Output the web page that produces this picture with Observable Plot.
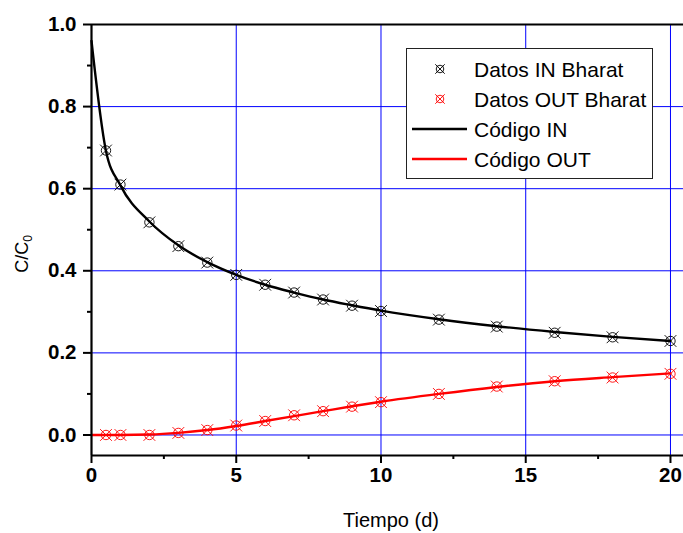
<!DOCTYPE html>
<html>
<head>
<meta charset="utf-8">
<script src="https://cdn.jsdelivr.net/npm/d3@7"></script>
<script src="https://cdn.jsdelivr.net/npm/@observablehq/plot@0.6"></script>
<style>
  html, body { margin: 0; padding: 0; background: #fff; }
  #chart { position: relative; width: 683px; height: 533px; }
</style>
</head>
<body>
<div id="chart"></div>
<script>
// Bharat data points
const bharatT   = [0.5, 1, 2, 3, 4, 5, 6, 7, 8, 9, 10, 12, 14, 16, 18, 20];
const bharatIN  = [0.693, 0.61, 0.518, 0.46, 0.42, 0.39, 0.366, 0.347, 0.33, 0.315, 0.302, 0.281, 0.264, 0.249, 0.238, 0.229];
const bharatOUT = [0.0, 0.0, 0.0, 0.005, 0.012, 0.023, 0.034, 0.048, 0.058, 0.069, 0.08, 0.1, 0.118, 0.131, 0.14, 0.149];

// Code (model) curves
const codeT   = [0, 0.5, 1, 2, 3, 4, 5, 6, 7, 8, 9, 10, 12, 14, 16, 18, 20];
const codeIN  = [0.96, 0.692, 0.608, 0.52, 0.462, 0.421, 0.39, 0.366, 0.347, 0.33, 0.316, 0.303, 0.282, 0.265, 0.251, 0.239, 0.229];
const codeOUT = [0.0, 0.0, 0.0, 0.001, 0.005, 0.012, 0.022, 0.034, 0.046, 0.058, 0.07, 0.081, 0.1, 0.117, 0.131, 0.141, 0.15];

// Axis ticks
const xMajor = [0, 5, 10, 15, 20];
const xMinor = [2.5, 7.5, 12.5, 17.5];
const yMajor = [0, 0.2, 0.4, 0.6, 0.8, 1.0];
const yMinor = [0.1, 0.3, 0.5, 0.7, 0.9];
const xGrid = [5, 10, 15, 20];
const yGrid = [0, 0.2, 0.4, 0.6, 0.8];

const xLabel = "Tiempo (d)";
const legendLabels = ["Datos IN Bharat", "Datos OUT Bharat", "Código IN", "Código OUT"];

const pointsIN  = bharatT.map((t, i) => ({t, v: bharatIN[i]}));
const pointsOUT = bharatT.map((t, i) => ({t, v: bharatOUT[i]}));
const lineIN  = codeT.map((t, i) => ({t, v: codeIN[i]}));
const lineOUT = codeT.map((t, i) => ({t, v: codeOUT[i]}));

const circleX = {
  draw(ctx, size) {
    const r = Math.sqrt(size / Math.PI);
    const a = r * 1.25;
    ctx.moveTo(r, 0);
    ctx.arc(0, 0, r, 0, 2 * Math.PI);
    ctx.moveTo(-a, -a); ctx.lineTo(a, a);
    ctx.moveTo(-a, a); ctx.lineTo(a, -a);
  }
};

const FONT = "'Liberation Sans', Arial, sans-serif";

const plot = Plot.plot({
  width: 683,
  height: 533,
  marginLeft: 91,
  marginRight: 0,
  marginTop: 24,
  marginBottom: 78,
  style: {fontFamily: FONT, background: "white", overflow: "visible"},
  x: {domain: [0, 20.45]},
  y: {domain: [-0.05, 1.0]},
  marks: [
    Plot.ruleX(xGrid, {stroke: "#0000ff", strokeWidth: 1}),
    Plot.ruleY(yGrid, {stroke: "#0000ff", strokeWidth: 1}),
    Plot.line(lineIN, {x: "t", y: "v", stroke: "black", strokeWidth: 2.4, curve: "monotone-x"}),
    Plot.line(lineOUT, {x: "t", y: "v", stroke: "#ff0000", strokeWidth: 2.4, curve: "monotone-x"}),
    Plot.dot(pointsIN, {x: "t", y: "v", r: 4.7, symbol: circleX, stroke: "black", strokeWidth: 0.9, fill: "none"}),
    Plot.dot(pointsOUT, {x: "t", y: "v", r: 4.7, symbol: circleX, stroke: "#ff0000", strokeWidth: 0.9, fill: "none"}),
    Plot.ruleX([0], {stroke: "black", strokeWidth: 2.2}),
    Plot.ruleY([-0.05], {stroke: "black", strokeWidth: 2.2}),
    Plot.ruleY([1.0], {stroke: "black", strokeWidth: 2.2}),
    Plot.axisX({ticks: xMajor, tickSize: 8, tickPadding: 4, tickFormat: d => String(d), fontSize: 20.5, fontWeight: "bold", fill: "black", strokeWidth: 2, label: null}),
    Plot.axisX({ticks: xMinor, tickSize: 4, tickFormat: () => "", strokeWidth: 2, label: null}),
    Plot.axisY({ticks: yMajor, tickSize: 8, tickPadding: 7, tickFormat: d3.format(".1f"), fontSize: 20.5, fontWeight: "bold", fill: "black", strokeWidth: 2, label: null}),
    Plot.axisY({ticks: yMinor, tickSize: 4, tickFormat: () => "", strokeWidth: 2, label: null})
  ]
});

document.getElementById("chart").appendChild(plot);

const svg = d3.select(plot);

// Axis titles
svg.append("text")
  .attr("x", 391).attr("y", 527)
  .attr("text-anchor", "middle")
  .attr("font-family", FONT).attr("font-size", 20).attr("fill", "black")
  .text(xLabel);

const yl = svg.append("text")
  .attr("transform", "translate(28,254) rotate(-90)")
  .attr("text-anchor", "middle")
  .attr("font-family", FONT).attr("font-size", 18).attr("fill", "black");
yl.append("tspan").text("C/C");
yl.append("tspan").attr("font-size", 12).attr("dy", 4).text("0");

// Legend
const lg = svg.append("g").attr("font-family", FONT).attr("font-size", 21).attr("text-anchor", "start");
lg.append("rect").attr("x", 406.5).attr("y", 48.5).attr("width", 246).attr("height", 130)
  .attr("fill", "white").attr("stroke", "#222").attr("stroke-width", 1);
const rowsY = [69, 99, 129, 159];
const sym = d3.symbol(circleX, Math.PI * 3.8 * 3.8);
lg.append("path").attr("d", sym()).attr("transform", `translate(440,${rowsY[0]})`)
  .attr("fill", "none").attr("stroke", "black").attr("stroke-width", 0.9);
lg.append("path").attr("d", sym()).attr("transform", `translate(440,${rowsY[1]})`)
  .attr("fill", "none").attr("stroke", "#ff0000").attr("stroke-width", 0.9);
lg.append("line").attr("x1", 412).attr("x2", 467).attr("y1", rowsY[2]).attr("y2", rowsY[2])
  .attr("stroke", "black").attr("stroke-width", 2.4);
lg.append("line").attr("x1", 412).attr("x2", 467).attr("y1", rowsY[3]).attr("y2", rowsY[3])
  .attr("stroke", "#ff0000").attr("stroke-width", 2.4);
legendLabels.forEach((s, i) => {
  lg.append("text").attr("x", 474).attr("y", rowsY[i] + 8).attr("text-anchor", "start").attr("fill", "black").text(s);
});
</script>
</body>
</html>
